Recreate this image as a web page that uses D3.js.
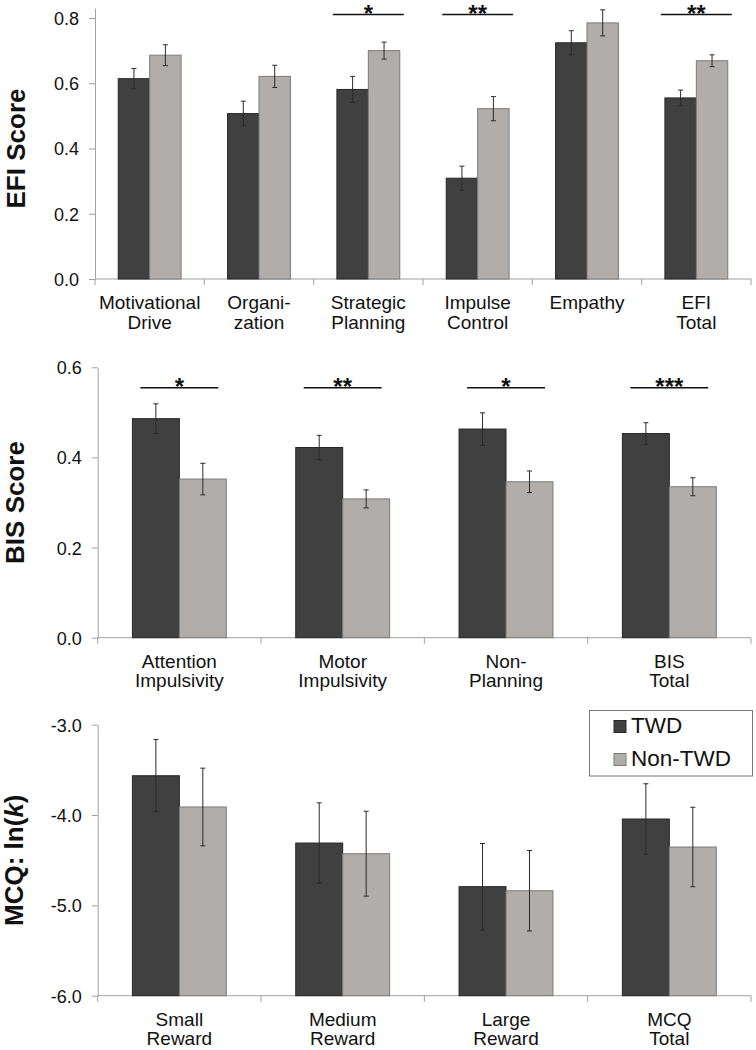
<!DOCTYPE html>
<html><head><meta charset="utf-8">
<script src="https://cdn.jsdelivr.net/npm/d3@7"></script>
<style>body{margin:0;background:#fff}svg{display:block;font-family:"Liberation Sans",Arial,sans-serif}</style>
</head><body><svg id="c" width="756" height="1050"></svg>
<script>
// ---------- DATA ----------
const seriesNames = ["TWD", "Non-TWD"];

const efiCategories = [["Motivational","Drive"],["Organi-","zation"],["Strategic","Planning"],["Impulse","Control"],["Empathy"],["EFI","Total"]];
const efiTWD      = [0.614, 0.507, 0.581, 0.309, 0.724, 0.555];
const efiTWDErr   = [0.031, 0.038, 0.040, 0.037, 0.037, 0.024];
const efiNon      = [0.686, 0.621, 0.700, 0.522, 0.785, 0.669];
const efiNonErr   = [0.032, 0.034, 0.026, 0.037, 0.040, 0.018];
const efiSig      = [null, null, "*", "**", null, "**"];
const efiTicks    = [0.0, 0.2, 0.4, 0.6, 0.8];

const bisCategories = [["Attention","Impulsivity"],["Motor","Impulsivity"],["Non-","Planning"],["BIS","Total"]];
const bisTWD      = [0.486, 0.422, 0.463, 0.453];
const bisTWDErr   = [0.033, 0.027, 0.036, 0.024];
const bisNon      = [0.352, 0.308, 0.346, 0.335];
const bisNonErr   = [0.035, 0.020, 0.024, 0.020];
const bisSig      = ["*", "**", "*", "***"];
const bisTicks    = [0.0, 0.2, 0.4, 0.6];

const mcqCategories = [["Small","Reward"],["Medium","Reward"],["Large","Reward"],["MCQ","Total"]];
const mcqTWD      = [-3.565, -4.310, -4.793, -4.044];
const mcqTWDErr   = [0.400, 0.445, 0.478, 0.390];
const mcqNon      = [-3.911, -4.428, -4.838, -4.354];
const mcqNonErr   = [0.430, 0.470, 0.445, 0.440];
const mcqSig      = [null, null, null, null];
const mcqTicks    = [-6.0, -5.0, -4.0, -3.0];

// ---------- STYLE ----------
const colors = ["#404040", "#b0adab"];
const strokes = ["#262626", "#7d7b7a"];
const axisColor = "#a0a0a0";
const svg = d3.select("#c");

function panel(cfg) {
  const g = svg.append("g");
  const y = d3.scaleLinear().domain(cfg.domain).range([cfg.y0, cfg.y1]);
  const idx = cfg.cats.map((d, i) => i);
  const x = d3.scaleBand().domain(idx).range([cfg.x0, cfg.x1]).paddingInner(0.425).paddingOuter(0.2125);
  const xs = d3.scaleBand().domain([0, 1]).range([0, x.bandwidth()]);
  const base = cfg.domain[0];

  // y axis
  const yAxis = d3.axisLeft(y).tickValues(cfg.ticks).tickFormat(d => d.toFixed(1)).tickSize(6).tickSizeOuter(0);
  const ya = g.append("g").attr("transform", `translate(${cfg.x0},0)`).call(yAxis);
  ya.select(".domain").attr("stroke", axisColor);
  ya.selectAll(".tick line").attr("stroke", axisColor);
  ya.selectAll(".tick text").attr("fill", "#111").attr("font-size", 18).attr("font-family", "Liberation Sans, Arial, sans-serif").attr("x", -16).attr("dy", "0.36em");

  // x baseline + boundary ticks
  g.append("line").attr("x1", cfg.x0).attr("x2", cfg.x1).attr("y1", y(base)).attr("y2", y(base)).attr("stroke", axisColor);
  const step = x.step();
  d3.range(cfg.cats.length + 1).forEach(i => {
    const bx = cfg.x0 + i * step;
    g.append("line").attr("x1", bx).attr("x2", bx).attr("y1", y(base)).attr("y2", y(base) + 6).attr("stroke", axisColor);
  });

  // bars
  const series = [cfg.a, cfg.b], errs = [cfg.ae, cfg.be];
  series.forEach((vals, s) => {
    g.selectAll(null).data(vals).enter().append("rect")
      .attr("x", (d, i) => x(i) + xs(s))
      .attr("y", d => y(d))
      .attr("width", xs.bandwidth())
      .attr("height", d => y(base) - y(d))
      .attr("fill", colors[s]).attr("stroke", strokes[s]).attr("stroke-width", 1);
  });
  // error bars
  series.forEach((vals, s) => {
    vals.forEach((v, i) => {
      const cx = x(i) + xs(s) + xs.bandwidth() / 2;
      const e = errs[s][i];
      const ec = "#2a2a2a";
      g.append("line").attr("x1", cx).attr("x2", cx).attr("y1", y(v + e)).attr("y2", y(v - e)).attr("stroke", ec).attr("stroke-width", 1);
      [v + e, v - e].forEach(t => g.append("line").attr("x1", cx - 2.5).attr("x2", cx + 2.5).attr("y1", y(t)).attr("y2", y(t)).attr("stroke", ec).attr("stroke-width", 1));
    });
  });

  // significance
  cfg.sig.forEach((sgn, i) => {
    if (!sgn) return;
    const ly = cfg.sigY;
    const gx0 = x(i) - cfg.sigExt, gx1 = x(i) + x.bandwidth() + cfg.sigExt;
    g.append("line").attr("x1", gx0).attr("x2", gx1).attr("y1", ly).attr("y2", ly).attr("stroke", "#111").attr("stroke-width", 1.5);
    g.append("text").attr("x", (gx0 + gx1) / 2).attr("y", ly + 7).attr("text-anchor", "middle")
      .attr("font-size", 24).attr("font-weight", "bold").attr("fill", "#111").text(sgn);
  });

  // x labels
  cfg.cats.forEach((lines, i) => {
    const t = g.append("text").attr("text-anchor", "middle").attr("font-size", 19).attr("fill", "#111");
    lines.forEach((ln, k) => t.append("tspan").attr("x", x(i) + x.bandwidth() / 2).attr("y", y(base) + 30 + k * 19.5).text(ln));
  });

  // y title
  const ty = (cfg.y0 + cfg.y1b) / 2;
  const tt = g.append("text").attr("transform", `translate(${cfg.titleX},${ty}) rotate(-90)`)
    .attr("text-anchor", "middle").attr("font-size", 26).attr("font-weight", "bold").attr("fill", "#111");
  cfg.title(tt);
  return { x, y };
}

panel({ cats: efiCategories, a: efiTWD, ae: efiTWDErr, b: efiNon, be: efiNonErr, sig: efiSig, ticks: efiTicks,
  domain: [0, 0.83], y0: 279, y1: 8.2, y1b: 18, x0: 95, x1: 751, sigY: 14.5, sigExt: 4, titleX: 25,
  title: t => t.text("EFI Score") });

panel({ cats: bisCategories, a: bisTWD, ae: bisTWDErr, b: bisNon, be: bisNonErr, sig: bisSig, ticks: bisTicks,
  domain: [0, 0.6], y0: 637.7, y1: 367.3, y1b: 367.3, x0: 97.7, x1: 751, sigY: 387.7, sigExt: -8, titleX: 23.5,
  title: t => t.text("BIS Score") });

panel({ cats: mcqCategories, a: mcqTWD, ae: mcqTWDErr, b: mcqNon, be: mcqNonErr, sig: mcqSig, ticks: mcqTicks,
  domain: [-6, -3], y0: 995.7, y1: 724.7, y1b: 724.7, x0: 97.7, x1: 751, sigY: 0, sigExt: 0, titleX: 22.5,
  title: t => { t.append("tspan").text("MCQ: ln("); t.append("tspan").attr("font-style", "italic").text("k"); t.append("tspan").text(")"); } });

// legend
const lg = svg.append("g");
lg.append("rect").attr("x", 589.5).attr("y", 710.5).attr("width", 163).attr("height", 65.5).attr("fill", "#fff").attr("stroke", "#777").attr("stroke-width", 1);
seriesNames.forEach((n, i) => {
  const yy = 720.5 + i * 33;
  lg.append("rect").attr("x", 614).attr("y", yy).attr("width", 12).attr("height", 12).attr("fill", colors[i]).attr("stroke", strokes[i]);
  lg.append("text").attr("x", 631).attr("y", yy + 12.5).attr("font-size", 22.5).attr("fill", "#111").text(n);
});
</script></body></html>
